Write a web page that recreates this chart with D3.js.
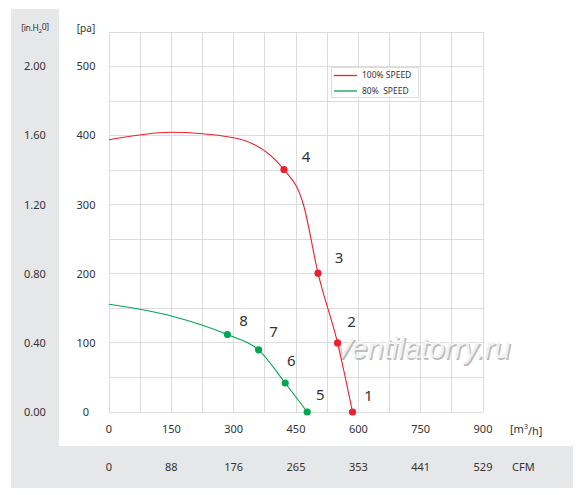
<!DOCTYPE html>
<html>
<head>
<meta charset="utf-8">
<script src="https://cdn.jsdelivr.net/npm/d3@7"></script>
<style>
  html, body { margin: 0; padding: 0; background: #fff; }
  svg { display: block; font-family: "Noto Sans", "Open Sans", sans-serif; }
</style>
</head>
<body>
<svg id="chart" width="579" height="495"></svg>
<script>
// ---- data ----
const flowTicks = [0, 150, 300, 450, 600, 750, 900];
const cfmLabels = ["0", "88", "176", "265", "353", "441", "529"];
const paTicks = [0, 100, 200, 300, 400, 500];
const inH2OLabels = ["0.00", "0.40", "0.80", "1.20", "1.60", "2.00"];

// 100% speed curve [m3/h, pa]
const speed100Flow = [0, 150, 300, 421, 468, 503, 550, 586];
const speed100Pa   = [394, 405, 397, 351, 300, 201, 100, 0];
// 80% speed curve
const speed80Flow = [0, 150, 285, 360, 424, 477];
const speed80Pa   = [156, 139, 112, 90, 42, 0];

// numbered operating points
const points100Label = ["4", "3", "2", "1"];
const points100Flow = [421, 503, 550, 586];
const points100Pa   = [351, 201, 100, 0];
const points80Label = ["8", "7", "6", "5"];
const points80Flow = [285, 360, 424, 477];
const points80Pa   = [112, 90, 42, 0];

const seriesNames = ["100% SPEED", "80%  SPEED"];
const seriesColors = ["#ef1f2b", "#00a651"];

// ---- drawing ----
const svg = d3.select("#chart");
const x = d3.scaleLinear().domain([0, 900]).range([109, 483]);
const y = d3.scaleLinear().domain([0, 550]).range([412, 32]);

// gray panels
svg.append("rect").attr("x", 11).attr("y", 9).attr("width", 48).attr("height", 479).attr("fill", "#e6e7e8");
svg.append("rect").attr("x", 11).attr("y", 446).attr("width", 562).attr("height", 42).attr("fill", "#e6e7e8");

// grid
const grid = svg.append("g").attr("stroke", "#dcdcdc").attr("stroke-width", 1).attr("shape-rendering", "crispEdges");
grid.selectAll("line.v").data(d3.range(0, 901, 75)).join("line")
  .attr("x1", d => x(d)).attr("x2", d => x(d)).attr("y1", y(550)).attr("y2", y(0));
grid.selectAll("line.h").data(d3.range(0, 551, 50)).join("line")
  .attr("class", "h")
  .attr("x1", x(0)).attr("x2", x(900)).attr("y1", d => y(d)).attr("y2", d => y(d));

const txt = "#333";
// x axis labels
svg.append("g").selectAll("text").data(flowTicks).join("text")
  .attr("x", d => x(d)).attr("y", 429).attr("dy", "0.35em")
  .attr("text-anchor", "middle").attr("font-size", 11).attr("fill", txt).text(d => d);
svg.append("g").selectAll("text").data(cfmLabels).join("text")
  .attr("x", (d, i) => x(flowTicks[i])).attr("y", 467).attr("dy", "0.35em")
  .attr("text-anchor", "middle").attr("font-size", 11).attr("fill", txt).text(d => d);
const mu = svg.append("text").attr("x", 510).attr("y", 429).attr("dy", "0.35em")
  .attr("font-size", 11).attr("fill", txt);
mu.append("tspan").text("[m");
mu.append("tspan").attr("font-size", 7).attr("dy", "-0.5em").text("3");
mu.append("tspan").attr("dy", "0.5em").text("/h]");
svg.append("text").attr("x", 512).attr("y", 467).attr("dy", "0.35em")
  .attr("font-size", 11).attr("fill", txt).text("CFM");

// y labels
svg.append("g").selectAll("text").data(paTicks).join("text")
  .attr("x", 86).attr("y", d => y(d)).attr("dy", "0.35em")
  .attr("text-anchor", "middle").attr("font-size", 11).attr("fill", txt).text(d => d);
svg.append("g").selectAll("text").data(inH2OLabels).join("text")
  .attr("x", 35).attr("y", (d, i) => y(paTicks[i])).attr("dy", "0.35em")
  .attr("text-anchor", "middle").attr("font-size", 11).attr("fill", txt).text(d => d);
svg.append("text").attr("x", 86).attr("y", 28).attr("dy", "0.35em")
  .attr("text-anchor", "middle").attr("font-size", 10).attr("fill", txt).text("[pa]");
const ih = svg.append("text").attr("x", 35).attr("y", 28).attr("dy", "0.35em")
  .attr("text-anchor", "middle").attr("font-size", 8.5).attr("fill", txt).attr("letter-spacing", -0.3);
ih.append("tspan").text("[in.H");
ih.append("tspan").attr("font-size", 6).attr("dy", "0.35em").text("2");
ih.append("tspan").attr("dy", "-0.35em").text("0]");

// watermark
const wm = "Ventilatorry.ru";
svg.append("text").attr("x", 334.5).attr("y", 359.5).attr("font-size", 29).attr("font-style", "italic")
  .attr("font-family", "'Liberation Sans', Arial, sans-serif")
  .attr("fill", "#bdbdbd").text(wm);
svg.append("text").attr("x", 333).attr("y", 358).attr("font-size", 29).attr("font-style", "italic")
  .attr("font-family", "'Liberation Sans', Arial, sans-serif")
  .attr("fill", "#f2f2f2").text(wm);

// curves
const line = d3.line().x(d => x(d[0])).y(d => y(d[1])).curve(d3.curveMonotoneX);
const curves = [d3.zip(speed100Flow, speed100Pa), d3.zip(speed80Flow, speed80Pa)];
svg.append("g").selectAll("path").data(curves).join("path")
  .attr("d", line).attr("fill", "none")
  .attr("stroke", (d, i) => seriesColors[i]).attr("stroke-width", 1.1);

// points and labels
const pts = [
  { c: seriesColors[0], data: d3.zip(points100Flow, points100Pa, points100Label), off: [[22, -13], [21, -15], [14, -21], [16, -16]] },
  { c: seriesColors[1], data: d3.zip(points80Flow, points80Pa, points80Label), off: [[16, -14], [15, -18], [6, -22], [13, -17]] }
];
pts.forEach(s => {
  const g = svg.append("g");
  g.selectAll("circle").data(s.data).join("circle")
    .attr("cx", d => x(d[0])).attr("cy", d => y(d[1])).attr("r", 3.6).attr("fill", s.c);
  g.selectAll("text").data(s.data).join("text")
    .attr("x", (d, i) => x(d[0]) + s.off[i][0]).attr("y", (d, i) => y(d[1]) + s.off[i][1]).attr("dy", "0.35em")
    .attr("text-anchor", "middle").attr("font-size", 15).attr("fill", "#333").text(d => d[2]);
});

// legend
const lg = svg.append("g");
lg.append("rect").attr("x", 331.5).attr("y", 67.5).attr("width", 87).attr("height", 30)
  .attr("fill", "#fff").attr("stroke", "#dcdcdc");
seriesNames.forEach((n, i) => {
  const yy = 75.5 + i * 15.5;
  lg.append("line").attr("x1", 334).attr("x2", 357).attr("y1", yy).attr("y2", yy)
    .attr("stroke", seriesColors[i]).attr("stroke-width", 1.3);
  lg.append("text").attr("x", 362).attr("y", yy).attr("dy", "0.35em").attr("font-size", 8.5)
    .attr("fill", "#333").style("white-space", "pre").text(n);
});
</script>
</body>
</html>
